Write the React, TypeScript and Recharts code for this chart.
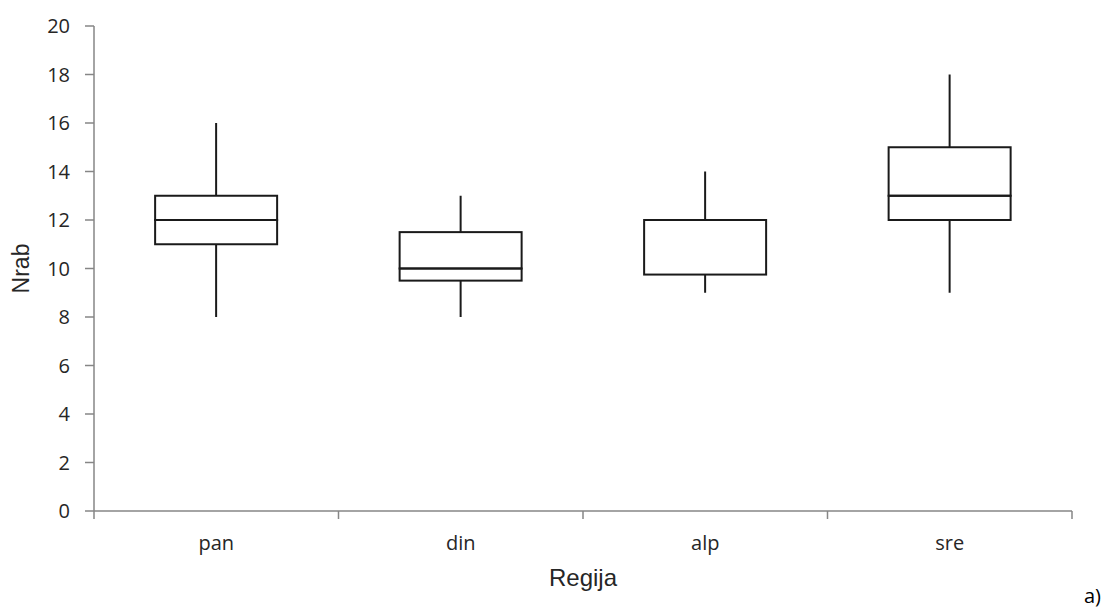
import React from "react";
import { ComposedChart, XAxis, YAxis, Bar } from "recharts";

const regions = ["pan", "din", "alp", "sre"];
const minVals = [8, 8, 9, 9];
const q1Vals = [11, 9.5, 9.75, 12];
const medianVals = [12, 10, 12, 13];
const q3Vals = [13, 11.5, 12, 15];
const maxVals = [16, 13, 14, 18];
const yTicks = [0, 2, 4, 6, 8, 10, 12, 14, 16, 18, 20];
const boundaryTicks = [0, 1, 2, 3, 4];

const data = regions.map((name, i) => ({
  name,
  slot: i + 0.5,
  base: minVals[i],
  lowWhisker: q1Vals[i] - minVals[i],
  lowBox: medianVals[i] - q1Vals[i],
  highBox: q3Vals[i] - medianVals[i],
  highWhisker: maxVals[i] - q3Vals[i],
}));

const ink = "#1a1a1a";
const axisGray = "#868686";
const textColor = "#262626";

const Whisker = (props: any) => {
  const { x, y, width, height } = props;
  if (height == null || width == null) return null;
  const cx = x + width / 2;
  return <line x1={cx} x2={cx} y1={y} y2={y + height} stroke={ink} strokeWidth={2} />;
};

const Box = (props: any) => {
  const { x, y, width, height } = props;
  if (height == null || width == null) return null;
  return <rect x={x} y={y} width={width} height={height} fill="none" stroke={ink} strokeWidth={2} />;
};

const Empty = () => null;
const NoLabel = () => <g />;

export default function App() {
  return (
    <div style={{ position: "absolute", left: 0, top: 0, width: 1110, height: 610 }}>
      <ComposedChart
        width={1110}
        height={610}
        data={data}
        barCategoryGap="25%"
        margin={{ top: 26, right: 38, left: 0, bottom: 18 }}
      >
        <XAxis
          xAxisId={0}
          dataKey="slot"
          type="number"
          domain={[0, 4]}
          ticks={boundaryTicks}
          allowDataOverflow
          height={1}
          tick={NoLabel}
          tickSize={8}
          stroke={axisGray}
          strokeWidth={1.5}
          tickLine={{ stroke: axisGray, strokeWidth: 1.5 }}
        />
        <XAxis
          xAxisId="cat"
          dataKey="name"
          type="category"
          height={80}
          axisLine={false}
          tickLine={false}
          tickSize={0}
          tickMargin={24}
          tick={{ fill: textColor, fontSize: 20, fontFamily: "Open Sans" }}
          label={{
            value: "Regija",
            position: "insideBottom",
            offset: 6,
            style: { fill: textColor, fontSize: 24, fontFamily: "Liberation Sans" },
          }}
        />
        <YAxis
          domain={[0, 20]}
          ticks={yTicks}
          width={94}
          tickSize={9}
          tickMargin={15}
          stroke={axisGray}
          strokeWidth={1.5}
          tick={{ fill: textColor, fontSize: 20, fontFamily: "Open Sans" }}
          label={{
            value: "Nrab",
            angle: -90,
            position: "insideLeft",
            offset: 21,
            style: { textAnchor: "middle", fill: textColor, fontSize: 23, fontFamily: "Liberation Sans" },
          }}
        />
        <Bar xAxisId="cat" dataKey="base" stackId="a" shape={Empty} isAnimationActive={false} />
        <Bar xAxisId="cat" dataKey="lowWhisker" stackId="a" shape={Whisker} isAnimationActive={false} />
        <Bar xAxisId="cat" dataKey="lowBox" stackId="a" shape={Box} isAnimationActive={false} />
        <Bar xAxisId="cat" dataKey="highBox" stackId="a" shape={Box} isAnimationActive={false} />
        <Bar xAxisId="cat" dataKey="highWhisker" stackId="a" shape={Whisker} isAnimationActive={false} />
      </ComposedChart>
      <div
        style={{
          position: "absolute",
          left: 1084,
          top: 582,
          fontFamily: "Open Sans",
          fontSize: 20,
          color: "#000",
        }}
      >
        a)
      </div>
    </div>
  );
}
